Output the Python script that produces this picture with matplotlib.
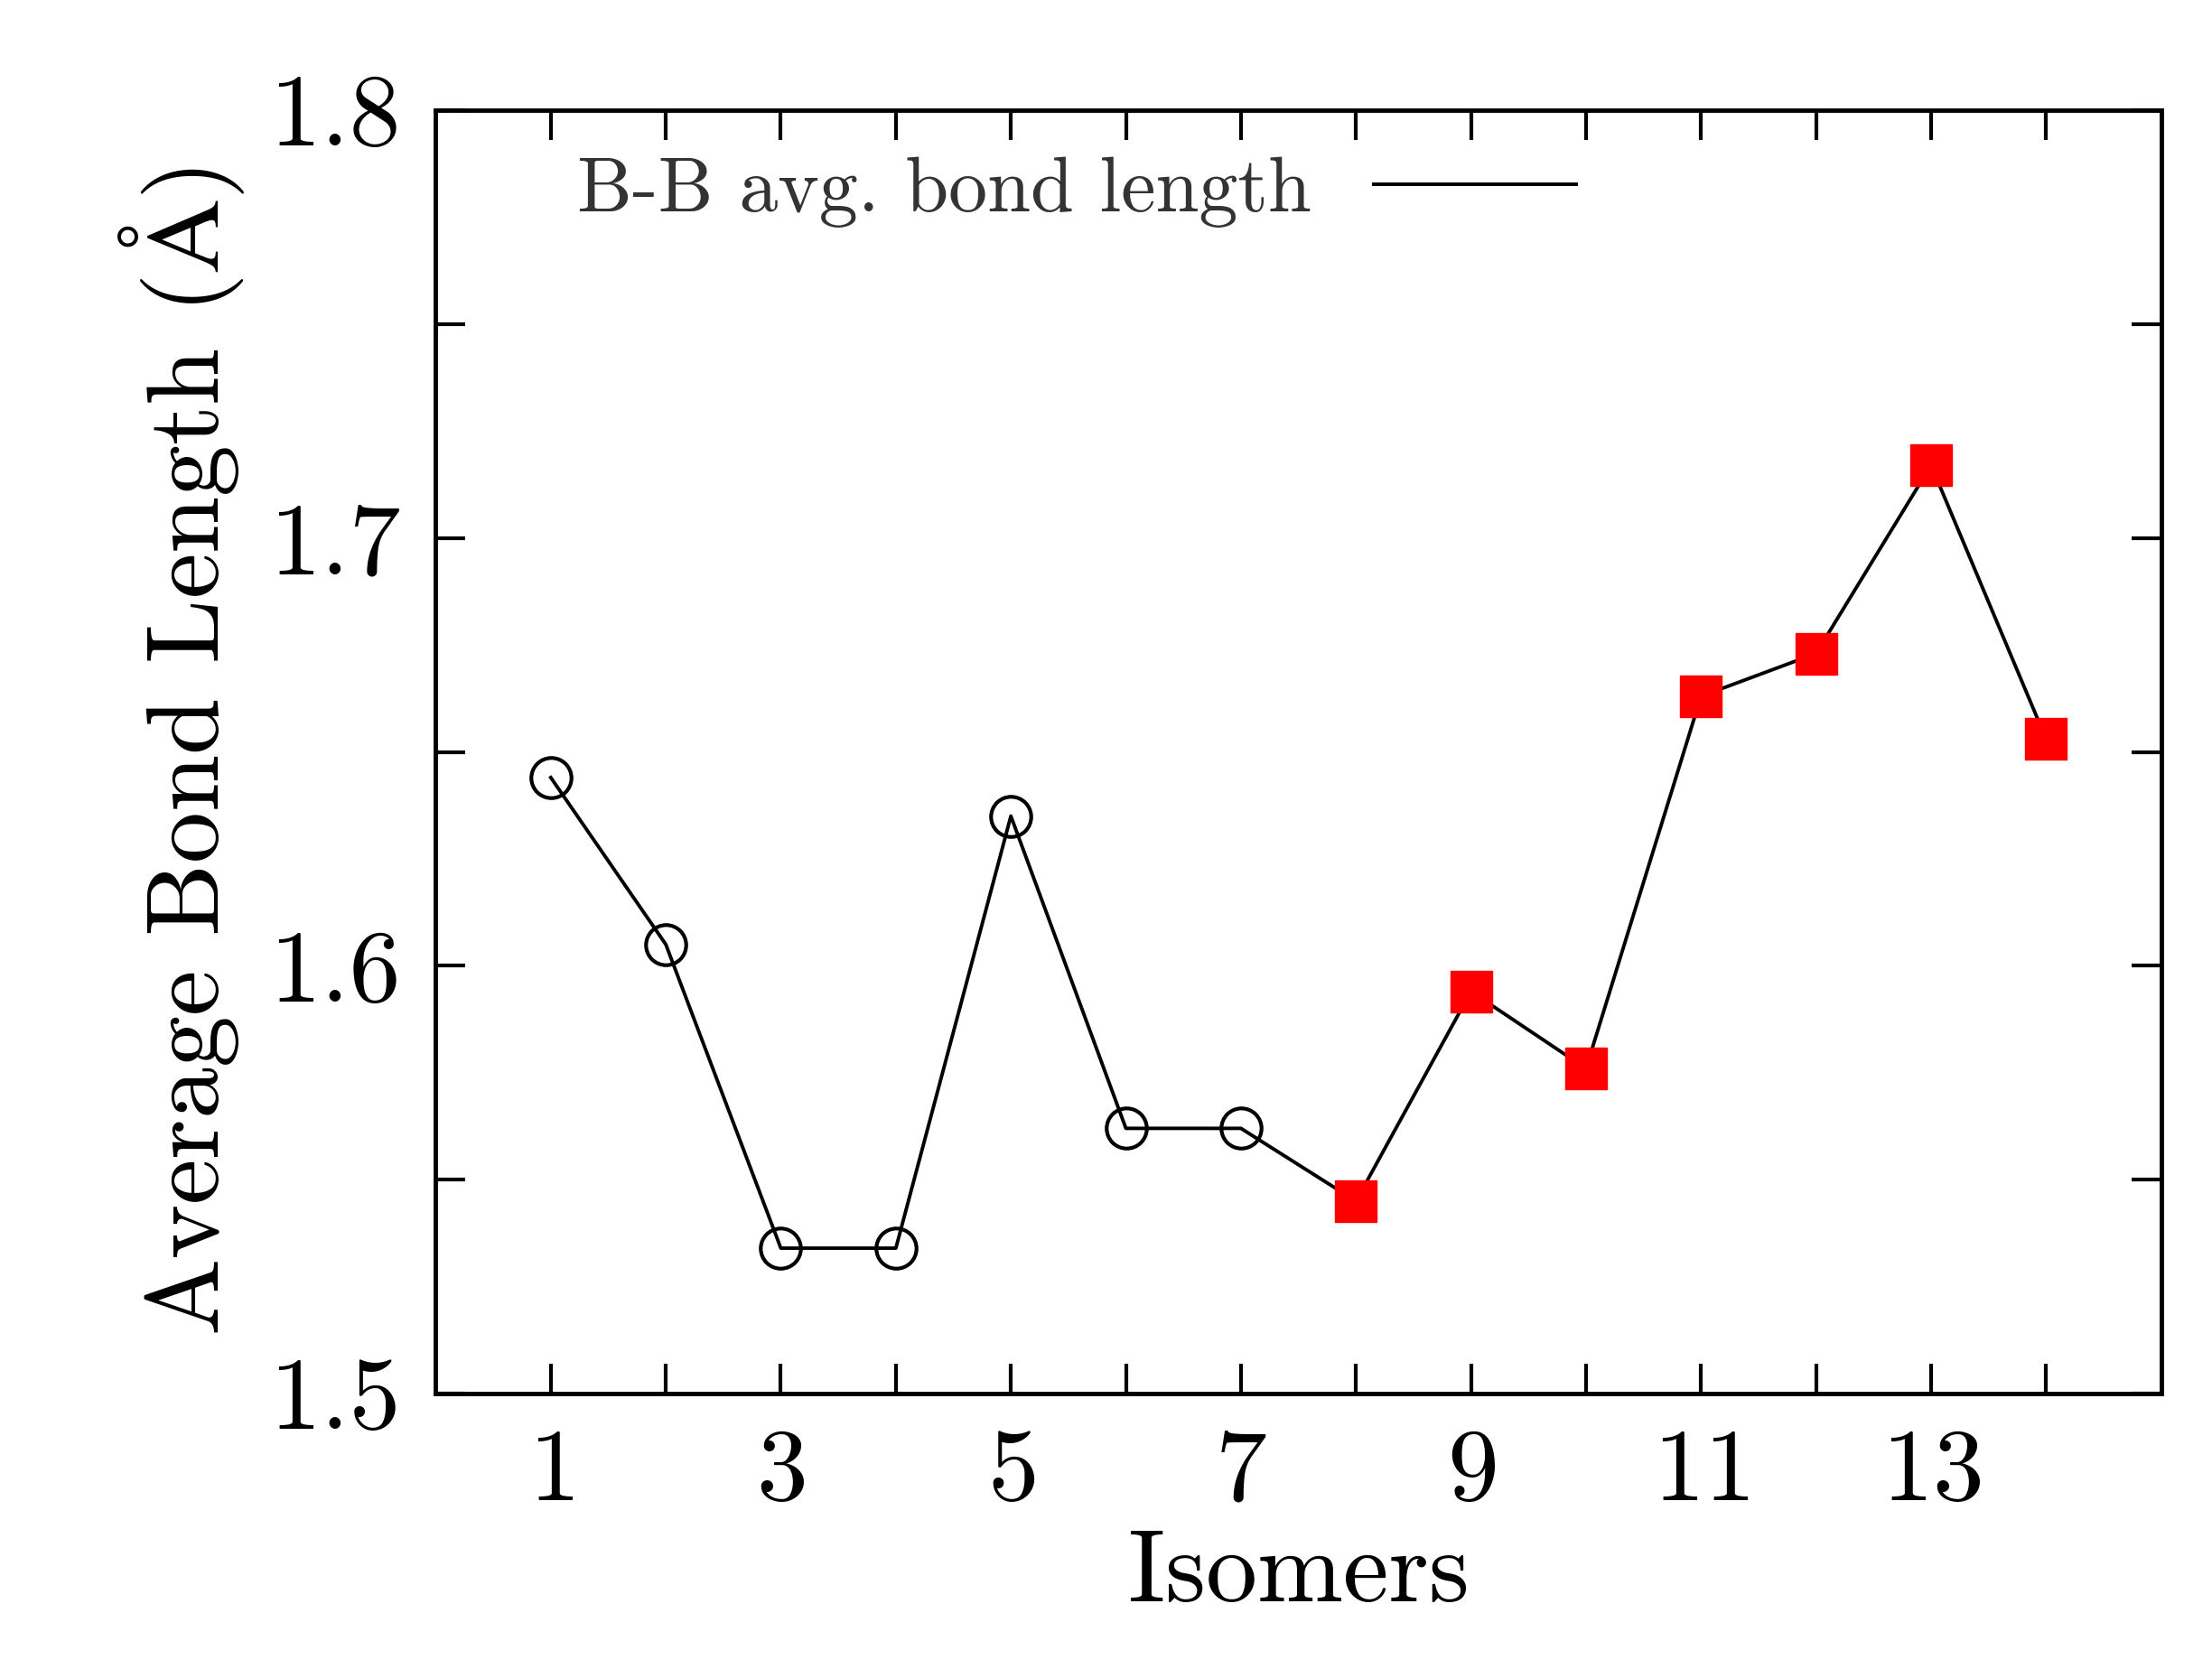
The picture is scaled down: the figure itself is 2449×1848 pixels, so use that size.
import matplotlib
matplotlib.use("Agg")
import matplotlib.pyplot as plt
from matplotlib.ticker import MultipleLocator, FixedLocator

plt.rcParams["font.family"] = ["cmr10", "DejaVu Serif"]
plt.rcParams["mathtext.fontset"] = "cm"
plt.rcParams["axes.formatter.use_mathtext"] = True

# --- data -------------------------------------------------------------------
isomers = list(range(1, 15))
bond_len = [1.644, 1.605, 1.534, 1.534, 1.635, 1.562, 1.562,
            1.545, 1.594, 1.576, 1.663, 1.673, 1.717, 1.653]
n_open = 7  # first 7 isomers: open circles, rest: red squares

fig = plt.figure(figsize=(24.49, 18.48), dpi=100)
ax = fig.add_axes([0.197, 0.165, 0.78, 0.769])

ax.plot(isomers, bond_len, color="black", lw=2.8, label="B-B avg. bond length")
ax.plot(isomers[:n_open], bond_len[:n_open], "o", ms=32, mfc="none",
        mec="black", mew=3)
ax.plot(isomers[n_open:], bond_len[n_open:], "s", ms=33, mfc="red",
        mec="red")

ax.set_xlim(0, 15)
ax.set_ylim(1.5, 1.8)
ax.xaxis.set_major_locator(FixedLocator(list(range(1, 15, 2))))
ax.xaxis.set_minor_locator(FixedLocator(list(range(2, 15, 2))))
ax.yaxis.set_major_locator(MultipleLocator(0.1))
ax.yaxis.set_minor_locator(MultipleLocator(0.05))
ax.yaxis.set_major_formatter(plt.FuncFormatter(lambda v, p: f"{v:.1f}"))

ax.tick_params(which="both", direction="in", top=True, right=True, width=3)
ax.tick_params(which="major", length=24, labelsize=82, pad=28)
ax.tick_params(which="minor", length=24)
for s in ax.spines.values():
    s.set_linewidth(3.5)

ax.set_xlabel("Isomers", fontsize=82, labelpad=8)
ax.set_ylabel(r"Average Bond Length ($\mathrm{\AA}$)", fontsize=82, labelpad=18)

leg = ax.legend(loc="upper left", markerfirst=False, frameon=False,
                fontsize=62, handlelength=2.6, borderaxespad=0.2,
                bbox_to_anchor=(0.055, 1.0))
for t in leg.get_texts():
    t.set_color("#333333")

fig.savefig("out.png", dpi=100)
